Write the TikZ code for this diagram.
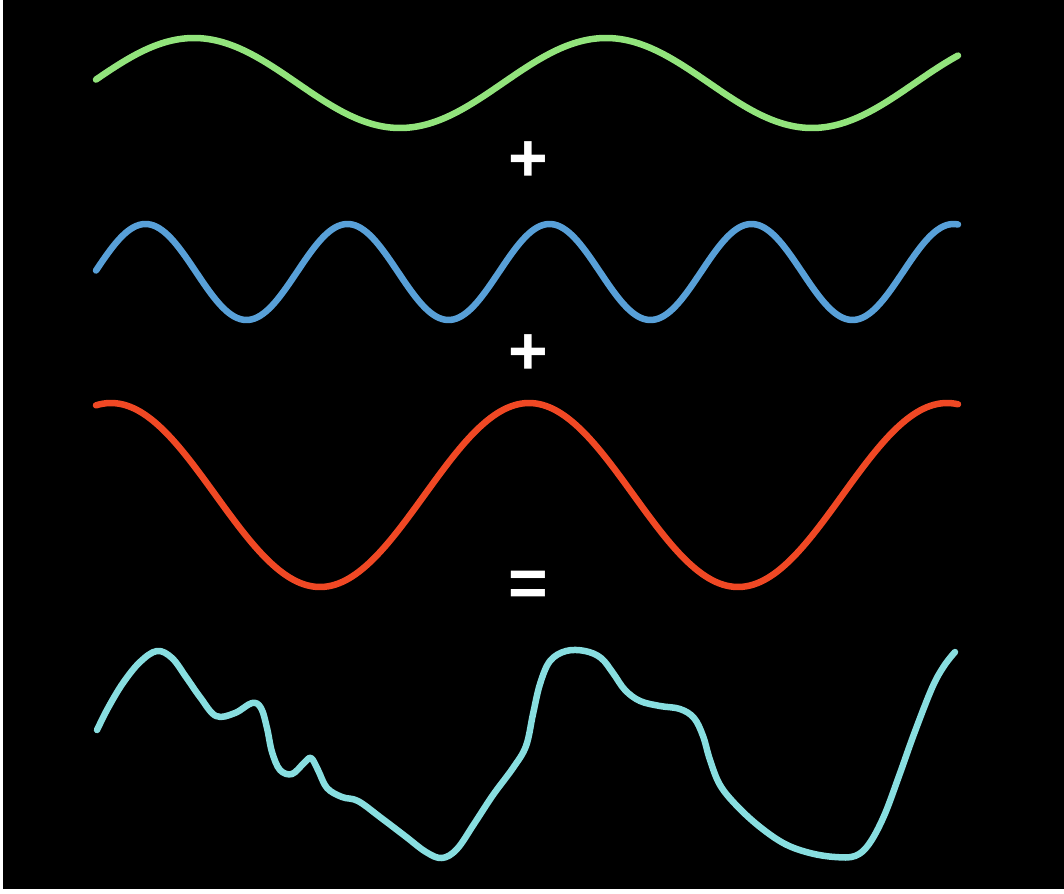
\documentclass[tikz,border=0pt]{standalone}
\usepackage{fontspec}
\newfontfamily\signfont{Liberation Sans}
\definecolor{wgreen}{RGB}{146,228,124}
\definecolor{wblue}{RGB}{88,160,216}
\definecolor{wred}{RGB}{240,72,36}
\definecolor{wcyan}{RGB}{136,222,224}
\tikzset{
  wave/.style={line width=6.5pt, line cap=round, line join=round},
  sign/.style={text=white, inner sep=0pt, font=\signfont\bfseries\fontsize{68}{68}\selectfont}
}
\begin{document}
\begin{tikzpicture}[x=1pt,y=-1pt]
\useasboundingbox (0,0) rectangle (1064,893);
\fill[white] (0,0) rectangle (1064,893);
\fill[black] (3,0) rectangle (1064,889);
% green
\draw[wave, wgreen] plot[domain=96:958, samples=250] (\x, {83 - 45*sin(0.873786*(\x-91))});
% blue
\draw[wave, wblue] plot[domain=96:958, samples=300] (\x, {272 - 48*sin(1.782178*(\x-95))});
% red
\draw[wave, wred] plot[domain=96:958, samples=250] (\x, {495 - 92*cos(0.861244*(\x-529))});
% cyan sum
\draw[wave, wcyan] plot[smooth, tension=0.6] coordinates {
 (97,730) (108,708) (123,683) (140,662) (157,651) (172,658) (186,677) (200,697)
 (216,716) (235,713) (252,703) (261,708) (267,728) (272,752) (280,770) (292,774)
 (304,763) (311,758) (318,770) (327,788) (342,797) (358,801) (380,817) (405,836)
 (426,852) (442,858) (457,849) (474,824) (493,795) (513,768) (526,746) (533,714)
 (540,684) (550,661) (566,651) (585,651) (601,658) (613,673) (625,690) (640,701)
 (660,706) (680,709) (694,718) (703,736) (710,760) (720,785) (737,806) (760,827)
 (785,844) (810,853) (835,857) (855,856) (869,844) (884,816) (899,776) (914,734)
 (932,688) (944,666) (955,652)};
\node[sign] (p1) at (528,162) {+};
\node[sign] (p2) at (528,355) {+};
\node[sign] (eq) at (528,589) {=};
\end{tikzpicture}
\end{document}
